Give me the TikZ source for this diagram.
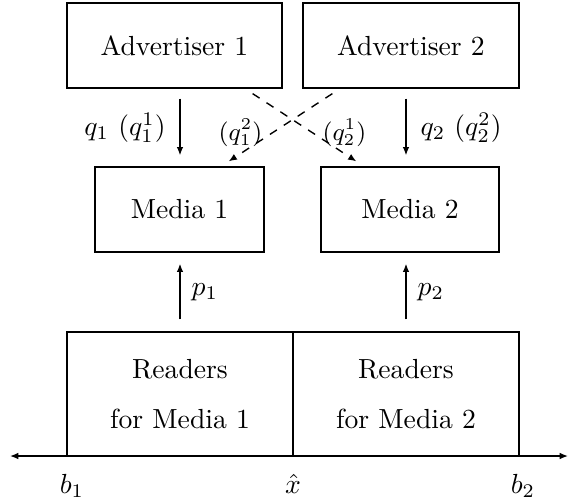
\documentclass[tikz,border=0pt]{standalone}
\usetikzlibrary{arrows.meta}
\begin{document}
\begin{tikzpicture}[x=0.362pt,y=-0.362pt,
  every path/.style={line width=0.5pt},
  box/.style={draw,line width=0.5pt,inner sep=0pt,align=center},
  tip/.style={-{Latex[length=3pt,width=2.4pt]}},
  gap/.style={shorten <=#1*0.362pt},
  gapend/.style={shorten >=#1*0.362pt},
  dlab/.style={font=\small,inner sep=3.3pt}]
\useasboundingbox (0,0) rectangle (569,503);
% boxes
\node[box,minimum width=215*0.362pt,minimum height=85*0.362pt] (A1) at (174.5,45.5) {Advertiser 1};
\node[box,minimum width=216*0.362pt,minimum height=85*0.362pt] (A2) at (411,45.5) {Advertiser 2};
\node[box,minimum width=169*0.362pt,minimum height=85*0.362pt] (M1) at (179.5,209.5) {Media 1};
\node[box,minimum width=178*0.362pt,minimum height=85*0.362pt] (M2) at (410,209.5) {Media 2};
\node[box,minimum width=226*0.362pt,minimum height=124*0.362pt] (R1) at (180,394) {Readers\\[6pt]for Media 1};
\node[box,minimum width=226*0.362pt,minimum height=124*0.362pt] (R2) at (406,394) {Readers\\[6pt]for Media 2};
% solid arrows q
\draw[tip,gap=10,gapend=11] (R1.north |- A1.south) -- node[left,inner sep=5pt]{$q_1\ (q_1^1)$} (R1.north |- M1.north);
\draw[tip,gap=10,gapend=11] (R2.north |- A2.south) -- node[right,inner sep=5pt]{$q_2\ (q_2^2)$} (R2.north |- M2.north);
% p arrows
\draw[tip,gap=12,gapend=11] (R1.north) -- node[right,inner sep=4pt]{$p_1$} (R1.north |- M1.south);
\draw[tip,gap=12,gapend=11] (R2.north) -- node[right,inner sep=4pt]{$p_2$} (R2.north |- M2.south);
% dashed cross arrows
\draw[tip,dashed,gap=9,gapend=9] ([xshift=-37.6*0.362pt]A1.south east) -- node[pos=0.57,right,dlab]{$(q_2^1)$} ([xshift=43.6*0.362pt]M2.north west);
\draw[tip,dashed,gap=9,gapend=9] ([xshift=37.6*0.362pt]A2.south west) -- node[pos=0.57,left,dlab]{$(q_1^2)$} ([xshift=-43.6*0.362pt]M1.north east);
% axis
\coordinate (ax1) at (10,456);
\coordinate (ax2) at (568,456);
\draw[{Latex[length=3pt,width=2.4pt]}-{Latex[length=3pt,width=2.4pt]}] (ax1) -- (ax2);
\node[anchor=base] (b1) at (72,493) {$b_1$};
\node[anchor=base] (xh) at (293,493) {$\hat{x}$};
\node[anchor=base] (b2) at (523,493) {$b_2$};
\end{tikzpicture}
\end{document}
